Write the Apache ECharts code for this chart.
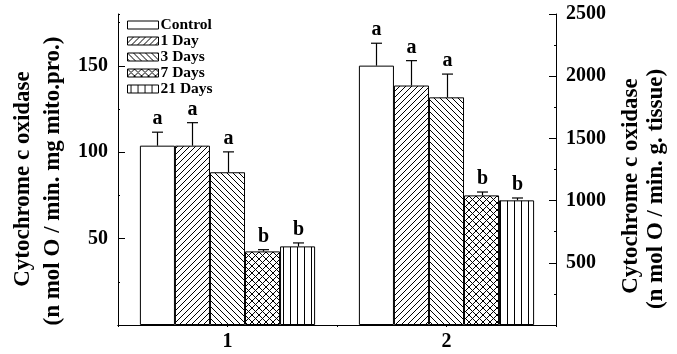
<!DOCTYPE html>
<html>
<head>
<meta charset="utf-8">
<script src="https://cdn.jsdelivr.net/npm/echarts@6/dist/echarts.min.js"></script>
<style>html,body{margin:0;padding:0;background:#fff;}#c{width:677px;height:354px;}</style>
</head>
<body>
<div id="c"></div>
<script>
// ---- data ----
const categories = ['1', '2'];
const seriesNames = ['Control', '1 Day', '3 Days', '7 Days', '21 Days'];
// group "1" (left axis, n mol O / min. mg mito.pro.)
const values1 = [103.8, 103.8, 88.4, 42.6, 45.5];
const errors1 = [7.8, 13.3, 11.8, 1.0, 2.0];
const letters1 = ['a', 'a', 'a', 'b', 'b'];
// group "2" (right axis, n mol O / min. g. tissue)
const values2 = [2085, 1925, 1830, 1042, 1002];
const errors2 = [180, 200, 187, 27, 19];
const letters2 = ['a', 'a', 'a', 'b', 'b'];
const leftTicks = { min: 0, max: 180, major: 50, minor: 25 };
const rightTicks = { min: 0, max: 2500, major: 500 };

const FONT = '"Liberation Serif", "Times New Roman", serif';

function makePattern(kind) {
  const s = (kind === 'cross' || kind === 'vert') ? 7 : 6;
  const c = document.createElement('canvas');
  c.width = s; c.height = s;
  const g = c.getContext('2d');
  g.fillStyle = '#fff'; g.fillRect(0, 0, s, s);
  g.strokeStyle = '#000'; g.lineWidth = 1;
  if (kind === 'fwd' || kind === 'cross') {
    g.beginPath();
    g.moveTo(-1, s + 1); g.lineTo(s + 1, -1);
    g.moveTo(-1, 1); g.lineTo(1, -1);
    g.moveTo(s - 1, s + 1); g.lineTo(s + 1, s - 1);
    g.stroke();
  }
  if (kind === 'back' || kind === 'cross') {
    g.beginPath();
    g.moveTo(-1, -1); g.lineTo(s + 1, s + 1);
    g.moveTo(s - 1, -1); g.lineTo(s + 1, 1);
    g.moveTo(-1, s - 1); g.lineTo(1, s + 1);
    g.stroke();
  }
  if (kind === 'vert') {
    g.fillStyle = '#000'; g.fillRect(3, 0, 1, s);
  }
  return c;
}
const fills = [
  '#ffffff',
  { image: makePattern('fwd'), repeat: 'repeat' },
  { image: makePattern('back'), repeat: 'repeat' },
  { image: makePattern('cross'), repeat: 'repeat' },
  { image: makePattern('vert'), repeat: 'repeat' }
];

const chart = echarts.init(document.getElementById('c'), null, { renderer: 'canvas' });

const series = [];
function addGroup(values, errors, letters, catIdx, axisIdx) {
  seriesNames.forEach((name, i) => {
    const data = categories.map((c, k) => (k === catIdx ? values[i] : '-'));
    series.push({
      type: 'bar', name: name, xAxisIndex: axisIdx, yAxisIndex: axisIdx,
      data: data, barCategoryGap: '20%', barGap: '0%',
      itemStyle: { color: fills[i], borderColor: '#000', borderWidth: 1 },
      z: 2
    });
  });
  series.push({
    type: 'custom', name: 'err' + axisIdx, xAxisIndex: axisIdx, yAxisIndex: axisIdx,
    z: 5, silent: true,
    data: values.map((v, i) => [catIdx, v, errors[i], i]),
    encode: { x: 0, y: 1 },
    renderItem: function (params, api) {
      const cat = api.value(0), v = api.value(1), e = api.value(2), slot = api.value(3);
      const letter = letters[slot];
      const band = api.size([1, 0])[0];
      const bw = band * 0.8 / seriesNames.length;
      const base = api.coord([cat, v]);
      const top = api.coord([cat, v + e]);
      const x = Math.round(base[0] + (slot - (seriesNames.length - 1) / 2) * bw) + 0.5;
      const cap = 5.5;
      const ls = { stroke: '#000', lineWidth: 1.2 };
      return {
        type: 'group',
        children: [
          { type: 'line', shape: { x1: x, y1: base[1], x2: x, y2: top[1] }, style: ls },
          { type: 'line', shape: { x1: x - cap, y1: top[1], x2: x + cap, y2: top[1] }, style: ls },
          { type: 'text', x: x, y: top[1] - 3,
            style: { text: letter, fill: '#000', font: 'bold 20px ' + FONT, align: 'center', verticalAlign: 'bottom' } }
        ]
      };
    }
  });
}
addGroup(values1, errors1, letters1, 0, 0);
addGroup(values2, errors2, letters2, 1, 1);

const axisLine = { show: true, lineStyle: { color: '#000', width: 1 } };
const option = {
  animation: false,
  backgroundColor: '#fff',
  grid: { left: 118, right: 121, top: 14, bottom: 29, containLabel: false },
  legend: {
    data: seriesNames, orient: 'vertical', left: 122, top: 12,
    itemWidth: 31, itemHeight: 8, itemGap: 0, icon: 'rect',
    itemStyle: { borderColor: '#000', borderWidth: 1 },
    textStyle: { fontFamily: FONT, fontWeight: 'bold', fontSize: 15.5, color: '#000', lineHeight: 16, padding: [0, 0, 0, -3] },
    selectedMode: false
  },
  xAxis: [
    { type: 'category', data: categories, position: 'bottom', axisLine: axisLine,
      axisTick: { show: false },
      axisLabel: { fontFamily: FONT, fontWeight: 'bold', fontSize: 20, color: '#000', margin: 7 } },
    { type: 'category', data: categories, position: 'top', axisLine: axisLine,
      axisTick: { show: true, inside: true, length: 2, lineStyle: { color: '#000' } },
      axisLabel: { show: false } },
    { type: 'category', data: categories, position: 'top', axisLine: { show: false },
      axisTick: { show: true, inside: true, alignWithLabel: true, length: 2, lineStyle: { color: '#000' } },
      axisLabel: { show: false } }
  ],
  yAxis: [
    { type: 'value', position: 'left', min: leftTicks.min, max: leftTicks.max, interval: leftTicks.major,
      axisLine: axisLine, splitLine: { show: false },
      axisTick: { show: true, inside: true, length: 7, lineStyle: { color: '#000' } },
      axisLabel: { fontFamily: FONT, fontWeight: 'bold', fontSize: 20, color: '#000', margin: 10,
        showMinLabel: false, showMaxLabel: false, formatter: v => String(v) } },
    { type: 'value', position: 'right', min: rightTicks.min, max: rightTicks.max, interval: rightTicks.major,
      axisLine: axisLine, splitLine: { show: false },
      axisTick: { show: true, inside: true, length: 7, lineStyle: { color: '#000' } },
      minorTick: { show: true, splitNumber: 2, length: 2, lineStyle: { color: '#000' } },
      minorSplitLine: { show: false },
      axisLabel: { fontFamily: FONT, fontWeight: 'bold', fontSize: 20, color: '#000', margin: 10,
        showMinLabel: false, formatter: v => String(v) } },
    { type: 'value', position: 'left', min: leftTicks.min, max: leftTicks.max, interval: leftTicks.minor,
      axisLine: { show: false }, splitLine: { show: false },
      axisTick: { show: true, inside: true, length: 2, lineStyle: { color: '#000' } },
      axisLabel: { show: false } }
  ],
  graphic: [
    { type: 'text', x: 23, y: 179, rotation: Math.PI / 2,
      style: { text: 'Cytochrome c oxidase', font: 'bold 23px ' + FONT, fill: '#000', align: 'center', verticalAlign: 'middle' } },
    { type: 'text', x: 53, y: 181, rotation: Math.PI / 2,
      style: { text: '(n mol O / min. mg mito.pro.)', font: 'bold 23px ' + FONT, fill: '#000', align: 'center', verticalAlign: 'middle' } },
    { type: 'text', x: 631, y: 186, rotation: Math.PI / 2,
      style: { text: 'Cytochrome c oxidase', font: 'bold 23px ' + FONT, fill: '#000', align: 'center', verticalAlign: 'middle' } },
    { type: 'text', x: 656, y: 189, rotation: Math.PI / 2,
      style: { text: '(n mol O / min. g. tissue)', font: 'bold 23px ' + FONT, fill: '#000', align: 'center', verticalAlign: 'middle' } }
  ],
  series: series
};
chart.setOption(option);
</script>
</body>
</html>
